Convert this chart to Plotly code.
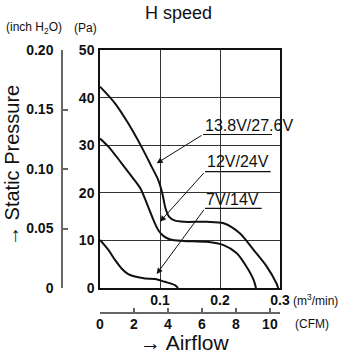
import plotly.graph_objects as go

# ---- data (x: m3/min, y: Pa) ----
c1_x = [0, 0.025, 0.047, 0.069, 0.086, 0.097, 0.104, 0.109, 0.115, 0.124, 0.14, 0.178, 0.206, 0.233, 0.256, 0.278, 0.294, 0.297]
c1_y = [42.3, 38.8, 34.6, 29.7, 25.5, 22.7, 19.8, 16.8, 15.0, 14.2, 13.9, 13.9, 13.6, 11.5, 8.0, 4.5, 1.0, 0]
c2_x = [0, 0.014, 0.036, 0.053, 0.067, 0.078, 0.089, 0.097, 0.106, 0.117, 0.139, 0.178, 0.206, 0.228, 0.244, 0.256, 0.26]
c2_y = [31.4, 29.7, 26.2, 23.4, 21.0, 17.8, 14.3, 12.2, 10.9, 10.2, 9.9, 9.7, 9.0, 7.3, 4.5, 1.7, 0]
c3_x = [0, 0.014, 0.025, 0.036, 0.047, 0.058, 0.075, 0.092, 0.108, 0.125, 0.13]
c3_y = [10.1, 8.0, 5.9, 4.1, 2.9, 2.4, 2.0, 1.9, 1.3, 0.6, 0]
series_names = ["13.8V/27.6V", "12V/24V", "7V/14V"]

pa_ticks = [0, 10, 20, 30, 40, 50]
inch_ticks = [0, 0.05, 0.10, 0.15, 0.20]
inch_labels = ["0", "0.05", "0.10", "0.15", "0.20"]
m3_ticks = [0.1, 0.2, 0.3]
cfm_ticks = [0, 2, 4, 6, 8, 10]
CFM_PER_M3MIN = 35.3147

# label placement (data units) : text center, underline (x0, x1, y), arrow head
lab_text = [(0.2475, 34.1), (0.2308, 26.5), (0.2208, 18.5)]
lab_line = [(0.1717, 0.2867, 32.25), (0.175, 0.2845, 24.43), (0.175, 0.2695, 16.74)]
lab_head = [(0.0945, 26.2), (0.100, 13.93), (0.0945, 2.94)]

SANS = "Liberation Sans, Arial, sans-serif"

fig = go.Figure()
for xs, ys in [(c1_x, c1_y), (c2_x, c2_y), (c3_x, c3_y)]:
    fig.add_trace(go.Scatter(x=xs, y=ys, mode="lines", line=dict(color="#111", width=2, shape="spline", smoothing=0.8),
                             showlegend=False, hoverinfo="skip", cliponaxis=True))
# dummy trace to activate secondary axes
fig.add_trace(go.Scatter(x=[0], y=[0], xaxis="x2", yaxis="y2", mode="markers", marker=dict(opacity=0),
                         showlegend=False, hoverinfo="skip"))

W, H = 350, 355
ML, MR, MT, MB = 0, 70, 50, 0
pw, ph = W - ML - MR, H - MT - MB
def px(x):  # pixel -> paper x
    return (x - ML) / pw
def py(y):
    return (H - MB - y) / ph

xdom = [px(100), px(280)]
ydom = [py(288), py(50)]
tf = dict(family=SANS, size=14, color="#111", weight="bold")

fig.update_layout(
    template="none",
    width=W, height=H, margin=dict(l=ML, r=MR, t=MT, b=MB, pad=0),
    paper_bgcolor="white", plot_bgcolor="white", showlegend=False,
    xaxis=dict(domain=xdom, range=[0, 0.3], tickvals=m3_ticks, ticktext=["0.1", "0.2", "0.3"], automargin=False,
               showgrid=True, gridcolor="#333", gridwidth=1, zeroline=False, ticks="",
               showline=True, mirror=True, linecolor="#111", linewidth=1.5,
               tickfont=tf, ticklabelstandoff=-2),
    yaxis=dict(domain=ydom, range=[0, 50], tickvals=pa_ticks, showgrid=True, gridcolor="#333", gridwidth=1,
               automargin=False, zeroline=False, ticks="", showline=True, mirror=True, linecolor="#111",
               linewidth=1.5, tickfont=tf, ticklabelstandoff=1),
    xaxis2=dict(overlaying="x", anchor="free", position=py(313), domain=xdom, automargin=False,
                range=[0, 0.3 * CFM_PER_M3MIN], tickvals=cfm_ticks, showgrid=False, zeroline=False,
                ticks="inside", ticklen=4, tickcolor="#666", tickwidth=1.5, showline=True,
                linecolor="#666", linewidth=1.5, side="bottom", tickfont=tf, ticklabelstandoff=-2),
    yaxis2=dict(overlaying="y", anchor="free", position=px(62), range=[0, 0.2], tickvals=inch_ticks,
                automargin=False, ticktext=inch_labels, showgrid=False, zeroline=False, ticks="inside", ticklen=5,
                tickcolor="#666", tickwidth=1.5, showline=True, linecolor="#666", linewidth=1.5, side="left",
                tickfont=tf, ticklabelstandoff=5),
)

ann = []
ann.append(dict(text="H speed", x=px(178), y=py(13), xref="paper", yref="paper", showarrow=False,
                font=dict(family=SANS, size=18, color="#111"), xanchor="center", yanchor="middle"))
ann.append(dict(text="(inch H<sub>2</sub>O)", x=px(4), y=py(28), xref="paper", yref="paper", showarrow=False,
                font=dict(family=SANS, size=12, color="#111"), xanchor="left", yanchor="middle"))
ann.append(dict(text="(Pa)", x=px(72), y=py(28), xref="paper", yref="paper", showarrow=False,
                font=dict(family=SANS, size=12, color="#111"), xanchor="left", yanchor="middle"))
ann.append(dict(text="(m<sup>3</sup>/min)", x=px(291), y=py(300), xref="paper", yref="paper", showarrow=False,
                font=dict(family=SANS, size=12, color="#111"), xanchor="left", yanchor="middle"))
ann.append(dict(text="(CFM)", x=px(293), y=py(324), xref="paper", yref="paper", showarrow=False,
                font=dict(family=SANS, size=12, color="#111"), xanchor="left", yanchor="middle"))
ann.append(dict(text="→ Airflow", x=px(185), y=py(342), xref="paper", yref="paper",
                showarrow=False, font=dict(family=SANS, size=21, color="#111"), xanchor="center", yanchor="middle"))
ann.append(dict(text="→ Static Pressure", x=px(12), y=py(166), xref="paper",
                yref="paper", showarrow=False, textangle=-90, font=dict(family=SANS, size=20, color="#111"),
                xanchor="center", yanchor="middle"))

shapes = []
for name, (tx, ty), (x0, x1, ly), (hx, hy) in zip(series_names, lab_text, lab_line, lab_head):
    ann.append(dict(text=name, x=tx, y=ty, xref="x", yref="y", showarrow=False,
                    font=dict(family=SANS, size=16, color="#111"), xanchor="center", yanchor="middle"))
    shapes.append(dict(type="line", xref="x", yref="y", x0=x0, x1=x1, y0=ly, y1=ly,
                       line=dict(color="#111", width=1.2)))
    ann.append(dict(text="", x=hx, y=hy, xref="x", yref="y", ax=x0, ay=ly, axref="x", ayref="y",
                    showarrow=True, arrowhead=2, arrowsize=1.2, arrowwidth=1, arrowcolor="#111"))

fig.update_layout(annotations=ann, shapes=shapes)
fig.write_html("out.html")
